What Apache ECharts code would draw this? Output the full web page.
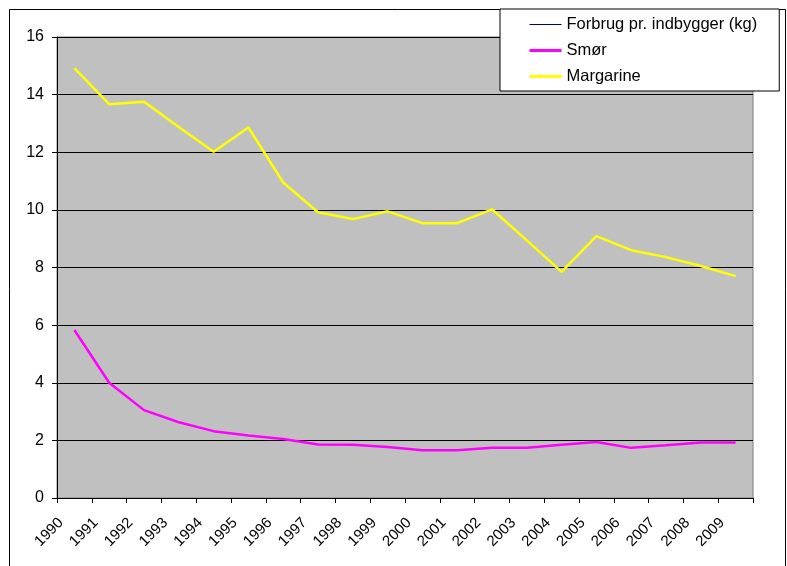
<!DOCTYPE html>
<html>
<head>
<meta charset="utf-8">
<script src="https://cdn.jsdelivr.net/npm/echarts@6/dist/echarts.min.js"></script>
<style>
  html, body { margin: 0; padding: 0; background: #fff; }
  #chart { width: 787px; height: 566px; }
</style>
</head>
<body>
<div id="chart"></div>
<script>
const YEARS = [
  "1990", "1991", "1992", "1993", "1994", "1995", "1996", "1997", "1998", "1999",
  "2000", "2001", "2002", "2003", "2004", "2005", "2006", "2007", "2008", "2009",
];

const FORBRUG = [];

const SMOER = [
  5.83, 4.0, 3.05, 2.63, 2.32, 2.17, 2.05, 1.86, 1.85, 1.77,
  1.66, 1.66, 1.74, 1.74, 1.85, 1.94, 1.74, 1.83, 1.93, 1.93,
];

const MARGARINE = [
  14.92, 13.67, 13.75, 12.88, 12.02, 12.86, 10.95, 9.92, 9.68, 9.95,
  9.54, 9.54, 10.02, 8.94, 7.85, 9.09, 8.6, 8.36, 8.05, 7.7,
];

const Y_MIN = 0;
const Y_MAX = 16;
const Y_STEP = 2;

function renderChart() {
  const chartEl = document.getElementById("chart");
  const myChart = echarts.init(chartEl, null, { renderer: "canvas" });

  const font = "Liberation Sans, Arial, sans-serif";

  const option = {
    animation: false,
    textStyle: { fontFamily: font },
    graphic: [
      {
        type: "rect",
        z: -1,
        shape: { x: 9.5, y: 9.5, width: 776, height: 620 },
        style: { fill: "#fff", stroke: "#000", lineWidth: 1 },
      },
    ],
    legend: {
      orient: "vertical",
      left: 500,
      top: 9,
      padding: [7, 22, 6, 28],
      itemWidth: 32,
      itemHeight: 14,
      itemGap: 9,
      backgroundColor: "#fff",
      borderColor: "#000",
      borderWidth: 1,
      itemStyle: { opacity: 0 },
      textStyle: { fontFamily: font, fontSize: 16.5, color: "#000" },
      data: [
        { name: "Forbrug pr. indbygger (kg)", lineStyle: { width: 1 } },
        { name: "Smør", lineStyle: { width: 3 } },
        { name: "Margarine", lineStyle: { width: 3 } },
      ],
      z: 10,
    },
    grid: {
      left: 57,
      top: 37,
      right: 34,
      bottom: 68,
      show: true,
      backgroundColor: "#c0c0c0",
      borderColor: "#808080",
      borderWidth: 1,
    },
    xAxis: {
      type: "category",
      data: YEARS,
      boundaryGap: true,
      axisLine: { show: true, lineStyle: { color: "#000", width: 1 } },
      axisTick: { show: true, length: 5, lineStyle: { color: "#000" } },
      axisLabel: {
        rotate: 45,
        margin: 9,
        padding: [0, 19, 0, 0],
        interval: 0,
        fontFamily: font,
        fontSize: 15,
        color: "#000",
      },
      splitLine: { show: false },
    },
    yAxis: {
      type: "value",
      min: Y_MIN,
      max: Y_MAX,
      interval: Y_STEP,
      axisLine: { show: true, lineStyle: { color: "#000", width: 1 } },
      axisTick: { show: true, length: 5, lineStyle: { color: "#000" } },
      axisLabel: {
        margin: 13,
        fontFamily: font,
        fontSize: 16,
        color: "#000",
      },
      splitLine: { show: true, lineStyle: { color: "#000", width: 1 } },
    },
    series: [
      {
        name: "Forbrug pr. indbygger (kg)",
        type: "line",
        data: FORBRUG,
        color: "#000080",
        symbol: "none",
        lineStyle: { width: 1, color: "#000080" },
      },
      {
        name: "Smør",
        type: "line",
        data: SMOER,
        color: "#ff00ff",
        symbol: "none",
        lineStyle: { width: 2.5, color: "#ff00ff" },
      },
      {
        name: "Margarine",
        type: "line",
        data: MARGARINE,
        color: "#ffff00",
        symbol: "none",
        lineStyle: { width: 2.5, color: "#ffff00" },
      },
    ],
  };

  myChart.setOption(option);
}

document.addEventListener("DOMContentLoaded", function () {
  renderChart();
});
</script>
</body>
</html>
